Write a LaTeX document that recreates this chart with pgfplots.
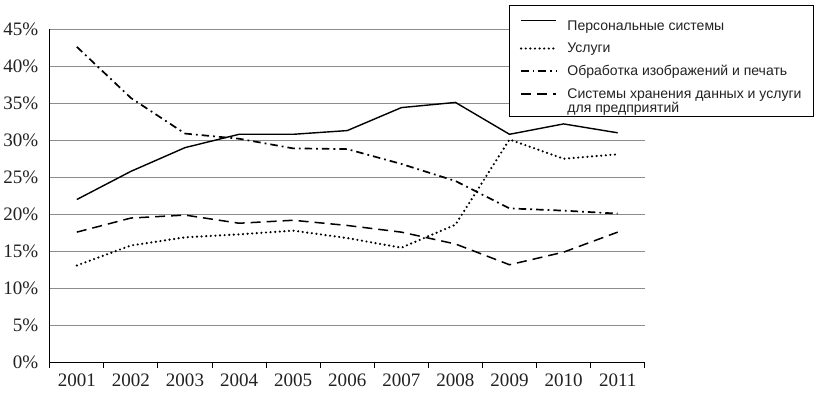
\documentclass[border={0pt 3pt 2pt 5pt}]{standalone}
\usepackage{pgfplots}
\pgfplotsset{compat=1.18}
\usepackage{fontspec}
\setmainfont{Liberation Serif}
\newfontfamily\legfont{Liberation Sans}
\definecolor{txt}{HTML}{222222}
\begin{document}
\begin{tikzpicture}
\begin{axis}[
  scale only axis, width=594pt, height=333pt,
  xmin=0.5, xmax=11.5, ymin=0, ymax=45,
  axis x line=bottom, axis y line=left,
  axis line style={-, line width=1pt, black},
  xtick={1,...,11},
  xticklabels={2001,2002,2003,2004,2005,2006,2007,2008,2009,2010,2011},
  major tick length=0pt,
  minor xtick={0.5,1.5,...,11.5},
  minor x tick style={black, line width=0.9pt},
  minor tick length=5pt,
  tick align=outside,
  ytick={0,5,...,45},
  yticklabels={0\%,5\%,10\%,15\%,20\%,25\%,30\%,35\%,40\%,45\%},
  ymajorgrids, major grid style={black!45, line width=0.8pt},
  tick label style={font=\fontsize{19}{19}\selectfont, text=txt},
  xticklabel style={yshift=-8pt},
  yticklabel style={xshift=-8pt},
  legend style={at={(axis description cs:1,1)}, anchor=north east,
    xshift=169pt, yshift=24pt, draw=black, line width=1pt,
    font=\legfont\fontsize{14}{16}\selectfont, text=txt,
    cells={anchor=west}, inner xsep=10pt, inner ysep=2pt, row sep=7.25pt,
    column sep=8pt},
  legend cell align=left,
  legend image code/.code={\draw[#1] (0pt,0pt) -- (35pt,0pt);},
]
\addplot[black, line width=1.4pt] coordinates {
(1,22.0) (2,25.8) (3,29.0) (4,30.8) (5,30.8) (6,31.3) (7,34.4) (8,35.1) (9,30.8) (10,32.2) (11,31.0)};
\addlegendentry{\raisebox{0pt}[\dimexpr\height+11pt\relax][\depth]{Персональные системы}}
\addplot[black, line width=2.4pt, line cap=round, dash pattern=on 0pt off 4.6pt] coordinates {
(1,13.1) (2,15.8) (3,16.9) (4,17.3) (5,17.8) (6,16.8) (7,15.5) (8,18.6) (9,30.1) (10,27.5) (11,28.1)};
\addlegendentry{Услуги}
\addplot[black, line width=1.7pt, dash pattern=on 7.5pt off 4pt on 1.8pt off 4pt] coordinates {
(1,42.6) (2,35.7) (3,30.9) (4,30.2) (5,28.9) (6,28.8) (7,26.8) (8,24.5) (9,20.8) (10,20.5) (11,20.1)};
\addlegendentry{Обработка изображений и печать}
\addplot[black, line width=1.5pt, dash pattern=on 10pt off 6pt] coordinates {
(1,17.6) (2,19.5) (3,19.9) (4,18.8) (5,19.2) (6,18.5) (7,17.6) (8,16.0) (9,13.2) (10,14.9) (11,17.6)};
\addlegendentry{\rlap{\raisebox{-14.5pt}[0pt][0pt]{для предприятий}}Системы хранения данных и услуги}
\addlegendimage{empty legend}
\addlegendentry{}
\end{axis}
\end{tikzpicture}
\end{document}
